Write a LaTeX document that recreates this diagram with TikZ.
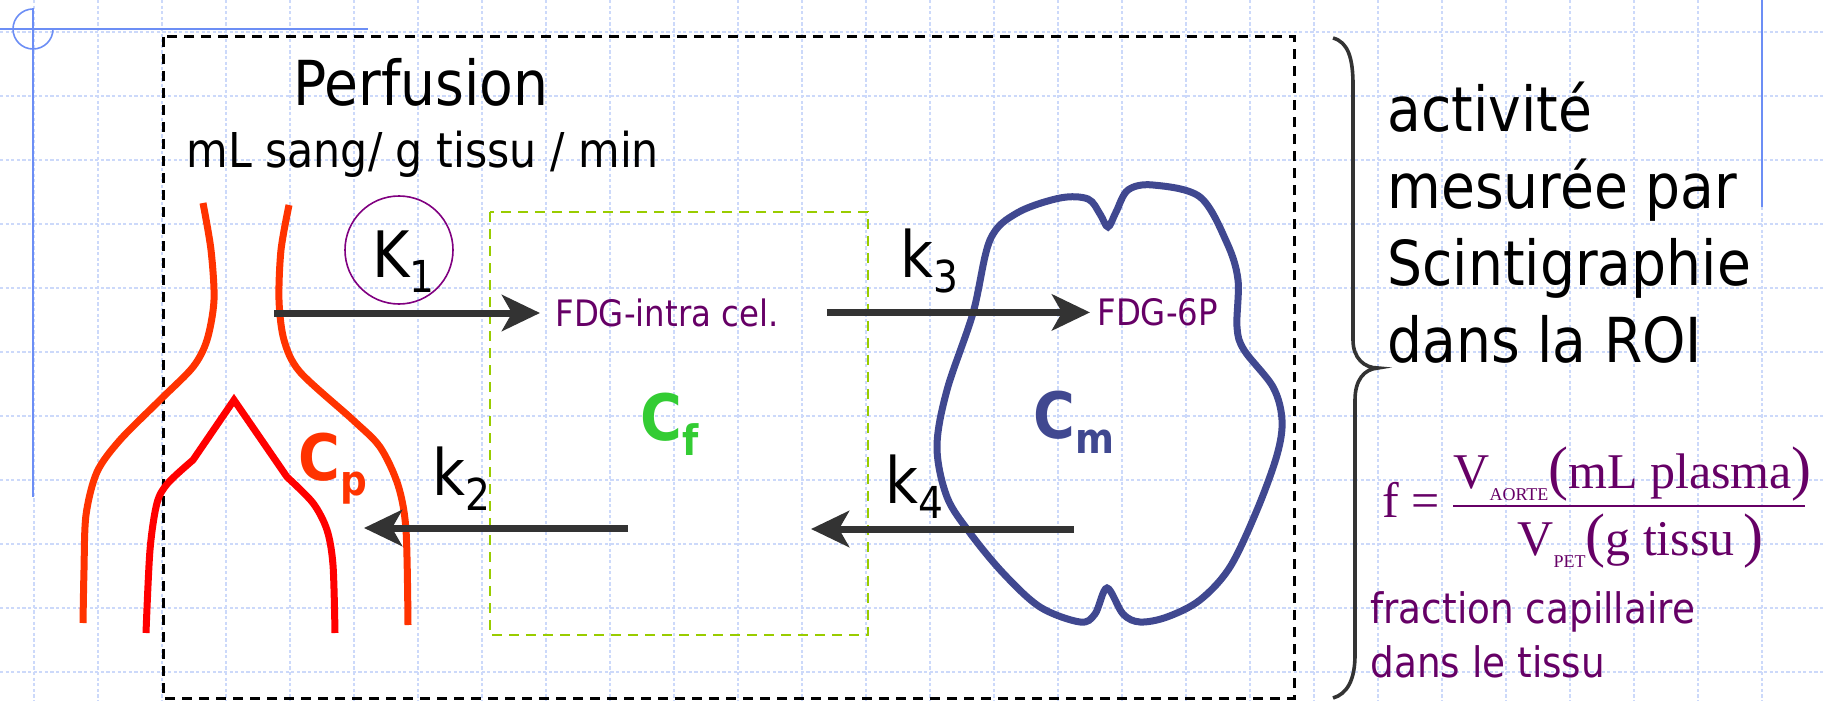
\documentclass[tikz,border=0pt]{standalone}
\usepackage{fontspec}
\setmainfont{DejaVu Sans}[FakeStretch=0.89]
\newfontfamily\timesfont{Liberation Serif}
\usetikzlibrary{arrows.meta}

\definecolor{grille}{RGB}{204,217,250}
\definecolor{cadre}{RGB}{108,142,245}
\definecolor{fleche}{RGB}{51,51,51}
\definecolor{prune}{RGB}{102,0,102}
\definecolor{orangesang}{RGB}{255,51,0}
\definecolor{rougesang}{RGB}{255,0,0}
\definecolor{vertf}{RGB}{51,204,51}
\definecolor{bleucm}{RGB}{64,72,144}
\definecolor{vertcadre}{RGB}{153,204,0}

\newcommand{\grand}{\fontsize{31}{38.5}\selectfont}
\newcommand{\etiq}{\fontsize{32}{38}\selectfont}
\newcommand{\indice}[1]{\raisebox{-7.5pt}{\fontsize{22}{22}\selectfont #1}}
\newcommand{\cindice}[1]{\raisebox{-7.5pt}{\fontsize{21}{21}\selectfont\bfseries #1}}
\newcommand{\vsub}[1]{V\raisebox{-6pt}{\fontsize{9}{9}\selectfont #1}}
\newcommand{\parg}[1]{{\fontsize{30}{30}\selectfont #1}}

\tikzset{
  txt/.style={inner sep=0pt, anchor=base west},
  flux/.style={draw=fleche, line width=3.5pt, -{Stealth[length=19pt, width=18pt, inset=5pt]}},
  arteriel/.style={orangesang, line width=3.5pt},
  capillaire/.style={rougesang, line width=3.5pt, line join=miter},
  gril/.style={grille, line width=1.1pt, dash pattern=on 1.6pt off 1.2pt},
}

\begin{document}
\begin{tikzpicture}[x=0.5pt, y=-0.5pt]
  \useasboundingbox (0,0) rectangle (1825,701);

  % fond quadrille
  \foreach \gx in {34,98,...,1826}
    \draw[gril] (\gx,0) -- (\gx,701);
  \foreach \gy in {32,96,...,672}
    \draw[gril] (0,\gy) -- (1825,\gy);
  \draw[cadre, line width=0.8pt] (0,29) -- (368,29);
  \draw[cadre, line width=0.8pt] (33,8) -- (33,497);
  \draw[cadre, line width=0.8pt] (33,9) arc[start angle=270, end angle=0, radius=20];
  \draw[cadre, line width=0.8pt] (1762,0) -- (1762,207);

  % ROI et compartiment libre
  \draw[black, line width=1.5pt, dash pattern=on 5pt off 3.5pt] (163,37) rectangle (1294,698);
  \draw[vertcadre, line width=1.1pt, dash pattern=on 5pt off 3.5pt] (490,212) rectangle (868,635);

  \node[txt, font=\grand] (perf) at (293,105) {Perfusion};
  \node[txt, font={\fontsize{24}{28}\selectfont}] (unite) at (186,167) {mL sang/ g tissu / min};

  % vaisseaux
  \draw[arteriel] plot[smooth] coordinates {(203,203) (211,250) (214,300) (207,340) (193,367)
    (160,400) (120,440) (97,472) (86,515) (84,570) (83,623)};
  \draw[arteriel] plot[smooth] coordinates {(289,205) (281,250) (279,300) (284,340) (300,372)
    (353,420) (380,447) (398,485) (406,530) (408,625)};
  \draw[capillaire] plot[smooth] coordinates {(146,633) (150,550) (157,503) (168,483) (193,460)}
    -- (234,400) -- plot[smooth] coordinates {(287,477) (313,503) (327,530) (333,565) (335,633)};

  % cellule
  \draw[bleucm, line width=3.5pt] plot[smooth cycle, tension=0.55] coordinates {
    (1060,198) (1088,199) (1100,214) (1108,227) (1116,212) (1128,190) (1153,185) (1200,197)
    (1227,243) (1238,280) (1237,327) (1244,350) (1273,387) (1282,420) (1277,455) (1257,510)
    (1230,567) (1200,600) (1167,617) (1140,622) (1123,614) (1107,588) (1095,614) (1080,622)
    (1040,607) (1003,573) (970,533) (947,497) (937,447) (947,390) (973,313) (990,240) (1017,213)};

  \node[txt, prune, font={\fontsize{18.2}{22}\selectfont}] (intra) at (555,326) {FDG-intra cel.};
  \node[txt, prune, font={\fontsize{18.2}{22}\selectfont}] (g6p) at (1097,325) {FDG-6P};

  % constantes de transfert
  \node[draw=violet, line width=0.8pt, circle, minimum size=54pt, inner sep=0pt] (anneau) at (399,250) {};
  \node[txt, font=\etiq] (K1) at (372,277) {K\indice{1}};
  \node[txt, font=\etiq] (k2) at (432,495) {k\indice{2}};
  \node[txt, font=\etiq] (k3) at (900,277) {k\indice{3}};
  \node[txt, font=\etiq] (k4) at (885,503) {k\indice{4}};

  \coordinate (depK1) at (274,313);
  \coordinate (k2dep) at (628,528);
  \coordinate (k2fin) at (364,528);
  \coordinate (k4dep) at (1074,529);
  \coordinate (k4fin) at (811,529);
  \draw[flux, shorten >=7.5pt] (depK1) -- (depK1 -| intra.west);
  \draw[flux, shorten <=24pt, shorten >=3.5pt] (intra.east) -- (intra.east -| g6p.west);
  \draw[flux] (k4dep) -- (k4fin);
  \draw[flux] (k2dep) -- (k2fin);

  % concentrations
  \node[txt, font=\etiq\bfseries, orangesang] (Cp) at (298,480) {C\cindice{p}};
  \node[txt, font=\etiq\bfseries, vertf] (Cf) at (640,440) {C\cindice{f}};
  \node[txt, font=\etiq\bfseries, bleucm] (Cm) at (1033,438) {C\cindice{m}};

  % accolade et legende
  \draw[fleche, line width=1.8pt] (1333,38) .. controls (1348,42) and (1353,58) .. (1353,85)
    -- (1353,340) .. controls (1353,358) and (1364,368) .. (1378,368)
    .. controls (1364,369) and (1355,380) .. (1355,400)
    -- (1355,655) .. controls (1355,680) and (1347,694) .. (1333,698);
  \node[txt, font=\grand, align=left] (roi) at (1387,362) {activité\\mesurée par\\Scintigraphie\\dans la ROI};

  \node[txt, prune, font={\timesfont\fontsize{25}{30}\selectfont}] (feq) at (1382,517) {f =};
  \node[txt, prune, font={\timesfont\fontsize{25}{30}\selectfont}] (num) at (1453,488)
    {\vsub{AORTE}\parg{(}mL plasma\parg{)}};
  \node[txt, prune, font={\timesfont\fontsize{25}{30}\selectfont}] (den) at (1517,555)
    {\vsub{PET}\parg{(}g tissu\,\parg{)}};
  \draw[prune, line width=1pt] (1453,506) -- (1805,506);
  \node[txt, prune, font={\fontsize{21}{27}\selectfont}, align=left] (fcap) at (1370,677)
    {fraction capillaire\\dans le tissu};
\end{tikzpicture}
\end{document}
